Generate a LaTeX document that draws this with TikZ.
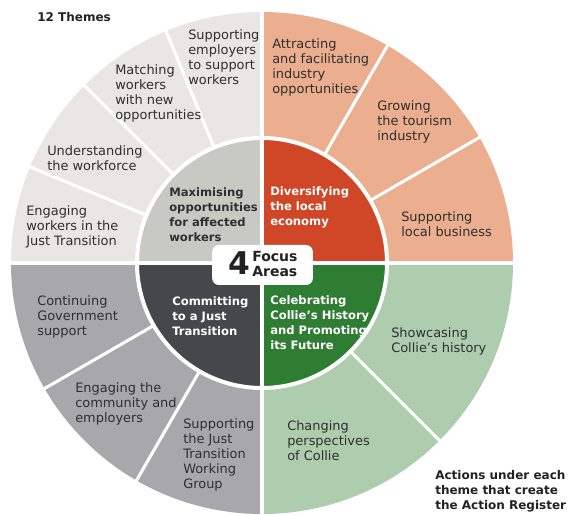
\documentclass[tikz,border=0pt]{standalone}
\usepackage{fontspec}
\setmainfont{DejaVu Sans}
\definecolor{tlout}{HTML}{E8E7E5}
\definecolor{tlin}{HTML}{C9C9C4}
\definecolor{trout}{HTML}{EBAE8E}
\definecolor{trin}{HTML}{D04727}
\definecolor{blout}{HTML}{A8A7AA}
\definecolor{blin}{HTML}{45484A}
\definecolor{brout}{HTML}{ADCDAE}
\definecolor{brin}{HTML}{2E7D32}
\definecolor{themetext}{HTML}{2F2F2F}
\definecolor{notetext}{HTML}{222222}
\begin{document}
\begin{tikzpicture}[x=0.75pt,y=0.75pt,
  theme/.style={anchor=west, align=left, inner sep=0pt, text=themetext,
    font=\fontsize{9.7}{11.25}\selectfont},
  area/.style={anchor=west, align=left, inner sep=0pt, text=white,
    font=\bfseries\fontsize{8.7}{11.25}\selectfont},
  note/.style={anchor=west, align=left, inner sep=0pt, text=notetext,
    font=\bfseries\fontsize{9}{11.25}\selectfont},
  gap/.style={draw=white, line width=2.3pt}]
\useasboundingbox (0,0) rectangle (570,514);
\coordinate (C) at (262,251);

% wheel: outer theme ring and inner focus-area quadrants
\begin{scope}[shift={(C)}]
  \fill[tlout] (90:251) arc[start angle=90,end angle=180,radius=251] -- (180:124) arc[start angle=180,end angle=90,radius=124] -- cycle;
  \fill[trout] (0:251) arc[start angle=0,end angle=90,radius=251] -- (90:124) arc[start angle=90,end angle=0,radius=124] -- cycle;
  \fill[blout] (180:251) arc[start angle=180,end angle=270,radius=251] -- (270:124) arc[start angle=270,end angle=180,radius=124] -- cycle;
  \fill[brout] (270:251) arc[start angle=270,end angle=360,radius=251] -- (0:124) arc[start angle=360,end angle=270,radius=124] -- cycle;
  \fill[tlin] (0,0) -- (90:124) arc[start angle=90,end angle=180,radius=124] -- cycle;
  \fill[trin] (0,0) -- (0:124) arc[start angle=0,end angle=90,radius=124] -- cycle;
  \fill[blin] (0,0) -- (180:124) arc[start angle=180,end angle=270,radius=124] -- cycle;
  \fill[brin] (0,0) -- (270:124) arc[start angle=270,end angle=360,radius=124] -- cycle;
  % white separations
  \draw[gap, line width=3pt] (0,0) circle[radius=125];
  \foreach \a in {30,60,112.5,135,157.5,210,240,315}
    \draw[gap] (\a:124) -- (\a:254);
  \draw[gap, line width=3pt] (-254,0) -- (254,0);
  \draw[gap, line width=3pt] (0,-254) -- (0,254);
\end{scope}

% themes, top left
\node[theme] (t1) at (188,456.5) {Supporting\\employers\\to support\\workers};
\node[theme] (t2) at (115,421) {Matching\\workers\\with new\\opportunities};
\node[theme] (t3) at (47,355.5) {Understanding\\the workforce};
\node[theme] (t4) at (26,287.5) {Engaging\\workers in the\\Just Transition};
% themes, top right
\node[theme] (t5) at (272,447) {Attracting\\and facilitating\\industry\\opportunities};
\node[theme] (t6) at (377,392.5) {Growing\\the tourism\\industry};
\node[theme] (t7) at (401,290) {Supporting\\local business};
% themes, bottom left
\node[theme] (t8) at (37,197.5) {Continuing\\Government\\support};
\node[theme] (t9) at (75,110) {Engaging the\\community and\\employers};
\node[theme] (t10) at (183,59.5) {Supporting\\the Just\\Transition\\Working\\Group};
% themes, bottom right
\node[theme] (t11) at (391,172.5) {Showcasing\\Collie’s history};
\node[theme] (t12) at (287,73.5) {Changing\\perspectives\\of Collie};

% focus areas
\node[area, text=themetext] (f1) at (169,299.5) {Maximising\\opportunities\\for affected\\workers};
\node[area] (f2) at (270,307) {Diversifying\\the local\\economy};
\node[area] (f3) at (172,198) {Committing\\to a Just\\Transition};
\node[area] (f4) at (270,191.5) {Celebrating\\Collie’s History\\and Promoting\\its Future};

% centre label
\node[fill=white, rounded corners=5pt, minimum width=75.5pt, minimum height=30pt, inner sep=0pt] (box) at (262.5,249) {};
\node[anchor=base, inner sep=0pt, text=notetext, font=\bfseries\fontsize{23.5}{23.5}\selectfont] (four) at (239,239) {4};
\node[anchor=west, align=left, inner sep=0pt, text=notetext, font=\bfseries\fontsize{10.5}{10.6}\selectfont] (focus) at (252,250) {Focus\\Areas};

% captions
\node[note] (themes) at (37,497) {12 Themes};
\node[note] (actions) at (435,22.5) {Actions under each\\theme that create\\the Action Register};
\end{tikzpicture}
\end{document}
